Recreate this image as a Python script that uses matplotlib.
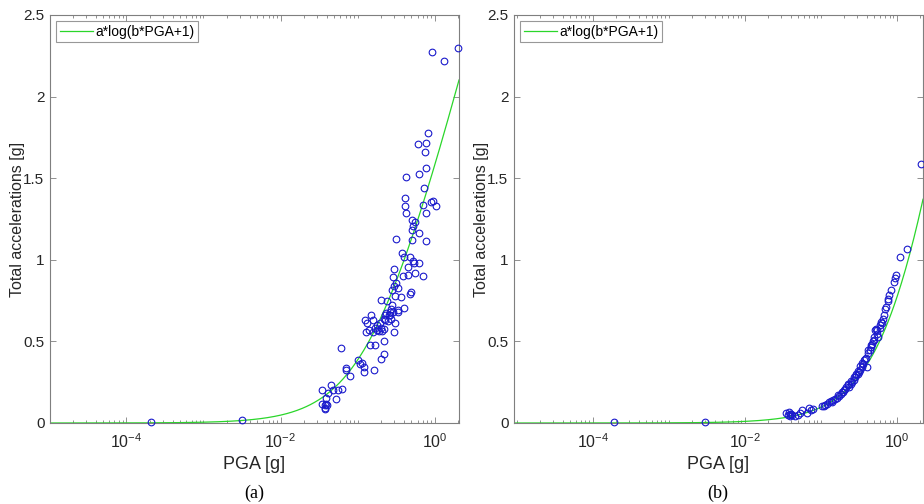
import matplotlib.pyplot as plt
import numpy as np
import matplotlib.ticker as tck

plt.rcParams['font.family'] = ['Liberation Sans', 'DejaVu Sans']
plt.rcParams['mathtext.fontset'] = 'custom'
plt.rcParams['mathtext.rm'] = 'Liberation Sans'
plt.rcParams['mathtext.it'] = 'Liberation Sans:italic'
plt.rcParams['mathtext.bf'] = 'Liberation Sans:bold'

### Data: PGA [g] and total accelerations [g]
### (a)
pga_a = [2.1e-4, 3.2e-3,
         0.035, 0.0419, 0.0454, 0.0482, 0.0521, 0.0559, 0.0636, 0.0347, 0.0379, 0.039, 0.0387, 0.0403, 0.0376, 0.0383,
         0.0611, 0.0703, 0.0716, 0.0791,
         0.1025, 0.1088, 0.1156, 0.120, 0.1214, 0.162, 0.1466, 0.1668, 0.1995, 0.218, 0.2205,
         0.125, 0.1328, 0.130, 0.141, 0.1496, 0.159, 0.170, 0.179, 0.188, 0.194, 0.2016, 0.21, 0.218, 0.225,
         0.2364, 0.241, 0.251, 0.261, 0.274, 0.294, 0.306, 0.294, 0.277, 0.288, 0.294, 0.306, 0.319, 0.338,
         0.332, 0.338, 0.366, 0.396, 0.319, 0.288, 0.256, 0.22, 0.23, 0.26, 0.27, 0.28, 0.20, 0.18, 0.16,
         0.373, 0.396, 0.389, 0.408, 0.408, 0.421, 0.43, 0.451, 0.456, 0.474, 0.489, 0.504, 0.514, 0.524,
         0.551, 0.514, 0.524, 0.535, 0.551, 0.484, 0.603, 0.627, 0.627, 0.627, 0.706, 0.706, 0.72, 0.757,
         0.764, 0.78, 0.828, 0.78, 0.764, 0.906, 0.951, 1.05, 0.933, 1.31, 2.0]
acc_a = [0.004, 0.016,
         0.20, 0.186, 0.231, 0.20, 0.147, 0.204, 0.208, 0.119, 0.09, 0.114, 0.153, 0.11, 0.108, 0.088,
         0.458, 0.335, 0.323, 0.288,
         0.384, 0.364, 0.368, 0.343, 0.311, 0.327, 0.478, 0.476, 0.392, 0.425, 0.50,
         0.634, 0.613, 0.558, 0.572, 0.66, 0.63, 0.585, 0.568, 0.564, 0.61, 0.752, 0.562, 0.578, 0.63,
         0.675, 0.75, 0.626, 0.66, 0.70, 0.558, 0.61, 0.838, 0.813, 0.895, 0.946, 0.777, 0.859, 0.83,
         0.695, 0.68, 0.77, 0.707, 1.13, 0.68, 0.66, 0.64, 0.66, 0.68, 0.64, 0.72, 0.58, 0.60, 0.56,
         1.04, 1.02, 0.90, 1.376, 1.33, 1.51, 1.284, 0.953, 0.906, 1.02, 0.80, 1.243, 1.18, 1.21,
         1.233, 1.12, 0.993, 0.98, 0.92, 0.79, 1.709, 1.525, 1.165, 0.98, 0.90, 1.335, 1.443, 1.662,
         1.56, 1.717, 1.774, 1.288, 1.117, 1.357, 1.36, 1.33, 2.275, 2.218, 2.30]

### (b)
pga_b = [1.9e-4, 3.0e-3,
         0.035, 0.0364, 0.0379, 0.0395, 0.0387, 0.0455, 0.0493, 0.0524, 0.0568, 0.0655, 0.0695, 0.0738, 0.0785,
         0.104, 0.113, 0.120, 0.127, 0.1355, 0.144, 0.153, 0.1625, 0.1725, 0.183, 0.1947, 0.203, 0.2155,
         0.2244, 0.2335, 0.248, 0.258, 0.269, 0.28, 0.2917, 0.3036, 0.316, 0.3294, 0.343, 0.357, 0.3716,
         0.395, 0.403, 0.411, 0.4365, 0.4546, 0.473, 0.493, 0.514, 0.524, 0.546, 0.568, 0.5916, 0.616,
         0.641, 0.668, 0.71, 0.754, 0.785, 0.834, 0.904, 0.941, 0.98, 1.084, 1.354, 2.1,
         0.04, 0.042, 0.11, 0.14, 0.17, 0.19, 0.21, 0.23, 0.25, 0.27, 0.29, 0.31, 0.33, 0.35, 0.38,
         0.42, 0.45, 0.48, 0.5, 0.55, 0.6, 0.65, 0.7, 0.76]
acc_b = [0.004, 0.006,
         0.061, 0.049, 0.065, 0.057, 0.041, 0.045, 0.051, 0.062, 0.078, 0.062, 0.09, 0.082, 0.086,
         0.102, 0.11, 0.114, 0.127, 0.135, 0.139, 0.147, 0.155, 0.164, 0.18, 0.188, 0.204, 0.22,
         0.231, 0.222, 0.241, 0.251, 0.266, 0.282, 0.292, 0.303, 0.313, 0.327, 0.343, 0.364, 0.384,
         0.40, 0.343, 0.43, 0.446, 0.466, 0.487, 0.507, 0.568, 0.578, 0.548, 0.527, 0.599, 0.62,
         0.61, 0.66, 0.711, 0.762, 0.783, 0.814, 0.865, 0.891, 0.906, 1.018, 1.069, 1.584,
         0.055, 0.05, 0.105, 0.13, 0.17, 0.19, 0.21, 0.24, 0.26, 0.28, 0.30, 0.32, 0.35, 0.37, 0.39,
         0.45, 0.48, 0.50, 0.53, 0.57, 0.58, 0.64, 0.70, 0.75]

### fit parameters a*log(b*PGA+1)
fit_a = [0.80, 6.2]
fit_b = [1.56, 0.64]

xlims = [(1.02e-5, 2.07), (9.2e-6, 2.2)]
panel_lbl = ['(a)', '(b)']

fontsz = 11
fontsz2 = 11.5
framecol = '#7f7f7f'
textcol = '#262626'

fig = plt.figure(figsize=(9.24, 5.04), dpi=100)
axs = [fig.add_axes([50/924, 81/504, 409/924, 408/504]),
       fig.add_axes([514/924, 81/504, 409/924, 408/504])]

datasets = [(pga_a, acc_a, fit_a), (pga_b, acc_b, fit_b)]

for n, ax in enumerate(axs):
    pga, acc, fit = datasets[n]
    xx = np.logspace(np.log10(xlims[n][0]), np.log10(xlims[n][1]), 400)
    ax.plot(xx, fit[0]*np.log(fit[1]*xx + 1), color='#2ad62a', linewidth=0.9, label='a*log(b*PGA+1)', zorder=2)
    ax.plot(pga, acc, linestyle='none', marker='o', markersize=4.8, markerfacecolor='none',
            markeredgecolor='#1a1acc', markeredgewidth=0.8, zorder=3, clip_on=False)

    ax.set_xscale('log')
    ax.set_xlim(xlims[n])
    ax.set_ylim(0, 2.5)
    ax.set_yticks(np.arange(0, 2.51, 0.5))
    ax.set_yticklabels(['0', '0.5', '1', '1.5', '2', '2.5'])
    ax.xaxis.set_major_locator(tck.FixedLocator([1e-4, 1e-2, 1e0]))
    ax.xaxis.set_minor_locator(tck.LogLocator(base=10, subs=np.arange(1, 10), numticks=30))
    ax.xaxis.set_minor_formatter(tck.NullFormatter())

    ax.tick_params(axis='both', which='both', direction='in', top=True, right=True,
                   colors=framecol, labelcolor=textcol, labelsize=fontsz, width=0.6)
    ax.tick_params(axis='both', which='major', length=4)
    ax.tick_params(axis='x', which='minor', length=2.5)
    ax.tick_params(axis='x', which='major', pad=7, labelsize=11.5)
    ax.tick_params(axis='y', which='major', pad=4)
    for sp in ax.spines.values():
        sp.set_color(framecol)
        sp.set_linewidth(0.8)

    ax.set_xlabel('PGA [g]', fontsize=13, color=textcol, labelpad=3)
    ax.set_ylabel('Total accelerations [g]', fontsize=fontsz2, color=textcol, labelpad=-1)

    leg = ax.legend(loc='upper left', fontsize=10, frameon=True, fancybox=False, handlelength=2.4,
                    borderpad=0.25, handletextpad=0.2, borderaxespad=0.45)
    leg.get_frame().set_edgecolor(framecol)
    leg.get_frame().set_linewidth(0.8)

    ### subfigure label below the axes
    fig.text((50 + 464*n + 204)/924, 11/504, panel_lbl[n], ha='center', va='center',
             fontsize=13, family='Liberation Serif', color='black')

plt.savefig('out.png', dpi=100)
